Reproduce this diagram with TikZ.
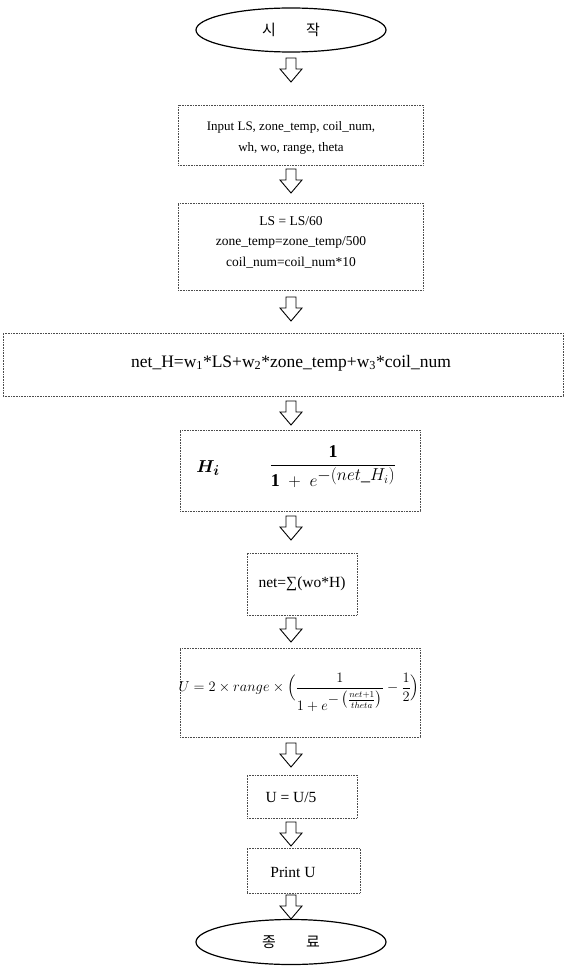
\documentclass[tikz,border=0pt]{standalone}
\usepackage{amsmath}
\usepackage{fontspec}
\setmainfont{Liberation Serif}
\newfontfamily\kr{Noto Sans CJK KR}
\usetikzlibrary{shapes.geometric,calc}
\tikzset{
  box/.style={draw=black!70, dash pattern=on 0.7pt off 0.9pt, line width=0.5pt, rectangle, inner sep=0pt},
  term/.style={ellipse, draw=black, line width=1.2pt, inner sep=0pt},
  txt/.style={inner sep=0pt, align=center, font=\fontsize{13}{21}\selectfont},
  pics/downarr/.style={code={
    \draw[line width=0.9pt, line join=miter] (-5,0) -- (-5,11) -- (-11,11) -- (0,24) -- (11,11) -- (5,11) -- (5,0) -- cycle;
  }}
}
\begin{document}
\begin{tikzpicture}[x=1pt,y=-1pt]
\useasboundingbox (0,0) rectangle (565,979);
% terminals
\node[term, minimum width=190pt, minimum height=44pt] (start) at (291,30) {\kr\fontsize{15}{17}\selectfont 시\hspace{2em}작};
\node[term, minimum width=190pt, minimum height=45pt] (end) at (291,942) {\kr\fontsize{15}{17}\selectfont 종\hspace{2em}료};
% boxes
\node[box, minimum width=245pt, minimum height=60pt] (b1) at (300.5,135) {};
\node[txt] (t1) at (291,138) {Input LS, zone\_temp, coil\_num,\\ wh, wo, range, theta};
\node[box, minimum width=245pt, minimum height=87pt] (b2) at (300.5,246.5) {};
\node[txt, font=\fontsize{13.5}{20.5}\selectfont] (t2) at (291,242) {LS = LS/60\\ zone\_temp=zone\_temp/500\\ coil\_num=coil\_num*10};
\node[box, minimum width=560pt, minimum height=63pt] (b3) at (283,364.5) {};
\node[txt, font=\fontsize{17.5}{19}\selectfont] (t3) at (291,363) {net\_H=w\textsubscript{1}*LS+w\textsubscript{2}*zone\_temp+w\textsubscript{3}*coil\_num};
\node[box, minimum width=240pt, minimum height=81pt] (b4) at (300,470.5) {};
\node[txt] (t4h) at (208,468) {\fontsize{19}{21}\selectfont $\boldsymbol{H_i}$};
\node[txt] (t4) at (333,467) {\fontsize{18}{20}\selectfont $\dfrac{\mathbf{1}}{\mathbf{1}\;+\;e^{\textstyle-(net\_H_i)}}$};
\node[box, minimum width=110pt, minimum height=62pt] (b5) at (302,584) {};
\node[txt, font=\fontsize{15.5}{17}\selectfont] (t5) at (302,584) {net=∑(wo*H)};
\node[box, minimum width=240pt, minimum height=89pt] (b6) at (300,692.5) {};
\node[txt] (t6) at (299,692) {\fontsize{13.5}{16}\selectfont $U = 2\times range\times\Bigl(\dfrac{1}{\rule{0pt}{20pt}1+e^{\textstyle -\left(\frac{net+1}{theta}\right)}}-\dfrac{1}{2}\Bigr)$};
\node[box, minimum width=110pt, minimum height=43pt] (b7) at (302,796.5) {};
\node[txt, font=\fontsize{15.5}{17}\selectfont] (t7) at (291,797) {U = U/5};
\node[box, minimum width=113pt, minimum height=45pt] (b8) at (303.5,870.5) {};
\node[txt, font=\fontsize{15.5}{17}\selectfont] (t8) at (293,872) {Print U};
% block arrows
\pic (a1) at (291,58) {downarr};
\pic (a2) at (291,169) {downarr};
\pic (a3) at (291,297) {downarr};
\pic (a4) at (291,401) {downarr};
\pic (a5) at (291,516) {downarr};
\pic (a6) at (291,618) {downarr};
\pic (a7) at (291,743) {downarr};
\pic (a8) at (291,822) {downarr};
\pic (a9) at (291,895) {downarr};
\end{tikzpicture}
\end{document}
